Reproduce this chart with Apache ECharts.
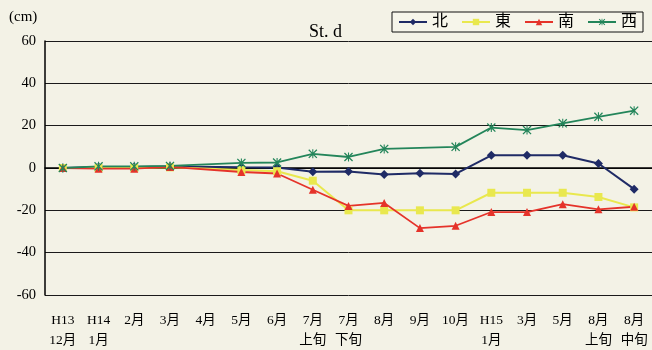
<!DOCTYPE html>
<html>
<head>
<meta charset="utf-8">
<script src="https://cdn.jsdelivr.net/npm/echarts@6/dist/echarts.min.js"></script>
<style>
html,body{margin:0;padding:0;background:#f3f2e6;}
#c{width:652px;height:350px;}
</style>
</head>
<body>
<div id="c"></div>
<script>
var categories = ['H13\n12月','H14\n1月','2月','3月','4月','5月','6月','7月\n上旬','7月\n下旬','8月','9月','10月','H15\n1月','3月','5月','8月\n上旬','8月\n中旬'];
var seriesNames = ['北','東','南','西'];
var north = [0, 0.5, 0.5, 0.7, null, 0.3, 0.2, -1.8, -1.6, -3.1, -2.5, -2.8, 6.0, 6.0, 6.0, 2.1, -10.0];
var east  = [0, 0, 0, 0.3, null, -1.0, -1.5, -6.0, -20.0, -20.0, -20.0, -20.0, -11.7, -11.7, -11.7, -13.7, -18.6];
var south = [0, -0.3, -0.3, 0.5, null, -1.9, -2.6, -10.3, -17.9, -16.5, -28.4, -27.3, -20.8, -20.8, -17.1, -19.5, -18.3];
var west  = [0, 0.8, 0.8, 1.0, null, 2.4, 2.6, 6.7, 5.2, 9.0, null, 10.0, 19.1, 17.9, 21.1, 24.2, 27.1];
var yTicks = [-60, -40, -20, 0, 20, 40, 60];

var serifFont = '"Liberation Serif","DejaVu Serif","Noto Sans CJK JP",serif';
var xSymbol = 'path://M0,1 L1,0 L5,4 L9,0 L10,1 L6,5 L10,9 L9,10 L5,6 L1,10 L0,9 L4,5 Z M4.4,0 L5.6,0 L5.6,10 L4.4,10 Z';

var chart = echarts.init(document.getElementById('c'));
function mk(name, data, color, symbol, size, width) {
  return {
    name: name, type: 'line', data: data, connectNulls: true,
    symbol: symbol, symbolSize: size,
    lineStyle: {color: color, width: width},
    itemStyle: {color: color},
    emphasis: {disabled: true}, animation: false
  };
}
chart.setOption({
  backgroundColor: '#f3f2e6',
  animation: false,
  title: {
    text: 'St. d', left: 304, top: 18,
    textStyle: {fontFamily: serifFont, fontSize: 18, fontWeight: 'normal', color: '#000'}
  },
  graphic: [{
    type: 'text', left: 9, top: 10,
    style: {text: '(cm)', fontFamily: serifFont, fontSize: 15, fill: '#000'}
  }],
  legend: {
    left: 392, top: 12, padding: [2, 6], itemGap: 13,
    itemWidth: 28, itemHeight: 8,
    borderColor: '#111', borderWidth: 1,
    backgroundColor: '#f6f5ea',
    textStyle: {fontFamily: serifFont, fontSize: 16, color: '#000'},
    data: seriesNames
  },
  grid: {left: 45, right: 0, top: 41, bottom: 50, containLabel: false},
  xAxis: {
    type: 'category', data: categories, boundaryGap: true,
    axisLine: {lineStyle: {color: '#000', width: 1.5}},
    axisTick: {inside: true, length: 4, lineStyle: {color: '#000'}},
    axisLabel: {fontFamily: serifFont, fontSize: 13.5, color: '#000', margin: 15, lineHeight: 20, interval: 0},
    splitLine: {show: false}
  },
  yAxis: {
    type: 'value', min: yTicks[0], max: yTicks[yTicks.length - 1], interval: 20,
    axisLine: {show: true, lineStyle: {color: '#000', width: 1.5}},
    axisTick: {show: false},
    axisLabel: {fontFamily: serifFont, fontSize: 14.5, color: '#000', margin: 9},
    splitLine: {lineStyle: {color: '#1a1a1a', width: 1}}
  },
  series: [
    mk(seriesNames[0], north, '#1f2b66', 'diamond', 9, 2),
    mk(seriesNames[1], east, '#e9e84e', 'rect', 8, 2),
    mk(seriesNames[2], south, '#e5332a', 'triangle', 8, 1.8),
    mk(seriesNames[3], west, '#23855a', xSymbol, 9, 1.8)
  ]
});
</script>
</body>
</html>
